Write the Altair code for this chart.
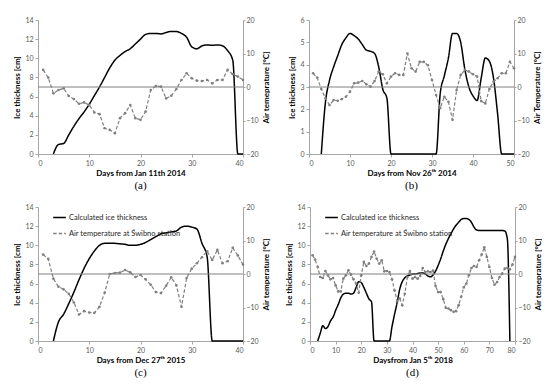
import altair as alt
import pandas as pd

ICE_NAME = "Calculated ice thickness"
TEMP_NAME = "Air temperature at Świbno station"

# ---------------- Panel (a) ----------------
a_ice_days = list(range(3, 41))
a_ice = [0, 1.0, 1.1, 2.0, 2.9, 3.7, 4.4, 5.2, 6.1, 7.0, 8.0, 9.0, 9.8, 10.3, 10.7,
         11.0, 11.5, 12.0, 12.5, 12.6, 12.6, 12.55, 12.7, 12.8, 12.8, 12.6, 12.2,
         11.2, 11.0, 11.3, 11.4, 11.35, 11.4, 11.3, 10.8, 9.8, 0, 0]
a_temp_days = list(range(1, 41))
a_temp = [5.1, 2.8, -1.9, -0.9, -0.4, -2.7, -3.6, -5.0, -4.6, -5.4, -7.6, -8.1,
          -12.3, -12.8, -13.8, -9.3, -7.8, -5.4, -9.3, -9.8, -7.3, -0.9, 0.3, 0.1,
          -3.4, -2.6, -0.6, 2.1, 4.1, 2.6, 1.9, 1.8, 2.1, 1.1, 2.1, 2.1, 5.1, 3.8,
          3.1, 2.1]

# ---------------- Panel (b) ----------------
b_ice_days = list(range(3, 51))
b_ice = [0, 2.3, 3.3, 3.9, 4.4, 4.9, 5.2, 5.4, 5.3, 5.15, 4.9, 4.65, 4.6, 4.5, 3.9,
         2.9, 2.5, 0, 0, 0, 0, 0, 0, 0, 0, 0, 0, 0, 0, 2.7, 3.5, 4.3, 5.4, 5.4, 5.0,
         3.8, 3.0, 2.6, 2.4, 3.4, 4.3, 4.15, 3.4, 1.8, 0, 0, 0, 0]
b_temp_days = list(range(1, 51))
b_temp = [4.1, 2.8, -0.6, -3.4, -5.4, -3.9, -4.1, -3.6, -2.9, -1.4, 1.1, 1.3, 1.8,
          0.8, 0.1, 1.8, 4.6, 3.8, 1.1, 3.1, 4.1, 3.6, 3.6, 10.0, 5.6, 4.6, 7.5, 7.5,
          6.5, 2.1, -2.4, -6.3, -2.9, -4.4, -9.8, -0.9, 3.6, 5.1, 4.6, 3.8, 3.1,
          -4.2, -4.9, -0.6, 1.6, 2.6, 4.1, 4.1, 7.5, 5.6]

# ---------------- Panel (c) ----------------
c_ice_days = list(range(3, 41))
c_ice = [0, 2.0, 2.8, 3.9, 5.1, 6.4, 7.6, 8.6, 9.4, 10.0, 10.2, 10.2, 10.2, 10.15,
         10.1, 10.0, 10.0, 10.1, 10.3, 10.6, 10.9, 11.2, 11.3, 11.4, 11.5, 11.9,
         12.0, 11.9, 11.7, 10.2, 8.8, 0, 0, 0, 0, 0, 0, 0]
c_temp_days = list(range(1, 41))
c_temp = [5.8, 4.5, -1.4, -3.8, -4.6, -5.9, -8.5, -12.1, -11.1, -11.5, -11.6, -9.8,
          -5.6, 0, 0.3, 0.4, 1.2, 0.5, -0.9, -0.3, -1.6, -3.2, -5.4, -5.7, -3.5,
          -1.0, -3.4, -9.8, -1.2, 1.6, 3.2, 5.0, 6.8, 4.2, 7.2, 3.2, 3.8, 7.8, 5.5,
          2.8]

# ---------------- Panel (d) ----------------
d_ice_days = list(range(3, 79))
d_ice = [0, 0.8, 1.6, 1.3, 1.5, 2.1, 2.5, 3.2, 3.8, 4.5, 4.9, 5.0, 5.0, 4.9, 5.0,
         5.6, 6.2, 6.1, 5.6, 5.0, 4.4, 4.1, 0, 0, 0, 0, 0, 0, 0, 1.5, 2.8, 4.0, 5.4,
         6.2, 6.6, 6.8, 6.9, 7.0, 7.0, 7.05, 7.1, 7.1, 7.0, 6.8, 6.7, 6.9, 7.3, 7.9,
         8.6, 9.4, 10.1, 10.7, 11.2, 11.7, 12.1, 12.4, 12.7, 12.8, 12.8, 12.7, 12.4,
         11.9, 11.6, 11.55, 11.55, 11.55, 11.55, 11.55, 11.55, 11.55, 11.55, 11.55,
         11.55, 11.5, 10.7, 0]
d_temp_days = list(range(1, 81))
d_temp = [5.6, 4.3, 2.1, -0.9, -1.2, 0.9, -0.4, -1.6, -1.2, -3.4,
          -5.2, -5.2, -1.4, -0.4, 1.1, -0.2, -1.6, -2.9, -5.6, -0.4,
          3.6, 2.4, 3.1, 5.1, 6.7, 4.6, 3.1, 4.1, 0.8, 0.9,
          0.6, -1.6, -4.9, -8.1, -7.3, -9.3, -5.9, -0.9, 0.9, -1.4,
          -0.9, -1.4, -0.6, 1.8, 0.6, 0.8, 0.6, 1.0, -3.6, -5.4,
          -5.4, -7.5, -10.1, -10.3, -10.8, -11.3, -11.1, -9.3, -6.8, -4.0,
          -2.9, -0.4, 1.8, 2.4, 2.1, 4.1, 5.8, 8.0, 5.1, 2.1,
          -1.2, -3.2, -2.4, -0.9, 0.1, 1.6, 1.8, 1.4, 2.8, 5.1]

FONT = "Lato"
GRAY = "#808080"
W, H = 205, 134


def panel(ice_days, ice, temp_days, temp, xmax, ymax, ystep, xtitle, rtitle,
          caption, show_legend, ltitle="Ice thickness [cm]"):
    ice_df = pd.DataFrame({"day": ice_days, "ice": ice, "series": ICE_NAME})
    temp_df = pd.DataFrame({"day": temp_days, "temp": temp, "series": TEMP_NAME})
    zero_df = pd.DataFrame({"temp": [0]})

    x = alt.X("day:Q", scale=alt.Scale(domain=[0, xmax], nice=False),
              axis=alt.Axis(values=list(range(0, xmax + 1, 10)), title=xtitle))
    if show_legend:
        leg = alt.Legend(orient="none", legendX=14, legendY=3, title=None,
                         symbolType="stroke", symbolSize=160, symbolStrokeWidth=1.5,
                         labelFont=FONT, labelFontSize=7.5, labelColor="#262626",
                         rowPadding=5, labelOffset=2, padding=0)
    else:
        leg = None
    dom = [ICE_NAME, TEMP_NAME]
    color = alt.Color("series:N", scale=alt.Scale(domain=dom, range=["#000000", GRAY]),
                      legend=leg)
    dash = alt.StrokeDash("series:N",
                          scale=alt.Scale(domain=dom, range=[[1, 0], [3.5, 2]]),
                          legend=leg)

    y_ice = alt.Y("ice:Q", scale=alt.Scale(domain=[0, ymax], nice=False),
                  axis=alt.Axis(orient="left", values=list(range(0, ymax + 1, ystep)),
                                title=ltitle))
    y_temp = alt.Y("temp:Q", scale=alt.Scale(domain=[-20, 20], nice=False),
                   axis=alt.Axis(orient="right", values=[-20, -10, 0, 10, 20],
                                 title=rtitle, titleAngle=270, titleBaseline="middle",
                                 titleAlign="center", titleX=23, titleY=H / 2,
                                 tickSize=2, labelPadding=1))

    ice_line = alt.Chart(ice_df).mark_line(strokeWidth=1.5, interpolate="monotone").encode(
        x=x, y=y_ice, color=color, strokeDash=dash)
    zero_rule = alt.Chart(zero_df).mark_rule(color=GRAY, strokeWidth=1).encode(y=y_temp)
    temp_line = alt.Chart(temp_df).mark_line(
        strokeWidth=1.2,
        point=alt.OverlayMarkDef(filled=True, size=7, color=GRAY)).encode(
        x=x, y=y_temp, color=color, strokeDash=dash)

    temp_layer = alt.layer(zero_rule, temp_line)
    return alt.layer(ice_line, temp_layer).resolve_scale(y="independent").properties(
        width=W, height=H,
        title=alt.TitleParams(caption, orient="bottom", font="Liberation Serif",
                              fontSize=11, fontWeight="normal", color="#000000",
                              offset=3, anchor="middle", frame="group"))


def indep(ch):
    return ch.resolve_scale(color="independent", strokeDash="independent").resolve_legend(
        color="independent", strokeDash="independent")


pa = panel(a_ice_days, a_ice, a_temp_days, a_temp, 40, 14, 2,
           "Days from Jan 11th 2014", "Air temeprature [°C]", "(a)", False)
pb = panel(b_ice_days, b_ice, b_temp_days, b_temp, 50, 6, 1,
           "Days from Nov 26ᵗʰ 2014", "Air Temperature [ºC]", "(b)", False)
pc = panel(c_ice_days, c_ice, c_temp_days, c_temp, 40, 14, 2,
           "Days from Dec 27ᵗʰ 2015", "Air temperature [°C]", "(c)", True)
pd_ = panel(d_ice_days, d_ice, d_temp_days, d_temp, 80, 14, 2,
            "Daysfrom Jan 5ᵗʰ 2018", "Air temeprature [°C]", "(d)", True)

row1 = indep(alt.hconcat(pa, pb, spacing=18))
row2 = indep(alt.hconcat(pc, pd_, spacing=15))

chart = indep(alt.vconcat(row1, row2, spacing=12)).properties(
    padding={"left": 5, "top": 8, "right": 0, "bottom": 0}
).configure_axis(
    labelFont=FONT, labelFontSize=7, labelColor="#595959",
    titleFont=FONT, titleFontSize=8, titleFontWeight="bold", titleColor="#000000",
    domainColor="#a6a6a6", tickColor="#a6a6a6", tickSize=3, grid=False,
    labelPadding=2, titlePadding=3
).configure_view(stroke=None)

chart.save("out.html", embed_options={"renderer": "svg", "actions": False})
